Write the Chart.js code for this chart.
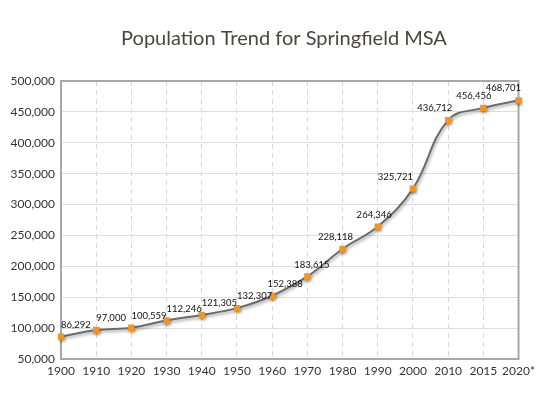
<!DOCTYPE html>
<html>
<head>
<meta charset="utf-8">
<script src="https://cdn.jsdelivr.net/npm/chart.js@4"></script>
<style>
  html, body { margin: 0; padding: 0; background: #fff; }
  #wrap { width: 540px; height: 396px; }
</style>
</head>
<body>
<div id="wrap"><canvas id="popChart" width="540" height="396"></canvas></div>
<script>
// years along the bottom
const years = ['1900', '1910', '1920', '1930', '1940', '1950', '1960', '1970', '1980', '1990', '2000', '2010', '2015', '2020*'];
// population for each year
const population = [86292, 97000, 100559, 112246, 121305, 132307, 152388, 183615, 228118, 264346, 325721, 436712, 456456, 468701];
const yMin = 50000;
const yMax = 500000;
const yStep = 50000;

const fontFam = 'Lato, "DejaVu Sans", sans-serif';

// how much of each value label sits left of its point (0 = starts at point, 1 = ends at point)
const labelAnchor = [0, 0, 0, 0, 0, 0, 0.13, 0.37, 0.7, 0.6, 1, 0.88, 0.77, 0.93];

// title + frame + value labels
const decorations = {
    id: 'decorations',
    beforeDatasetsDraw(chart) {
        const ctx = chart.ctx;
        const a = chart.chartArea;
        // frame round the plot
        ctx.save();
        ctx.strokeStyle = '#a8a8a8';
        ctx.lineWidth = 2;
        ctx.strokeRect(a.left, a.top, a.right - a.left, a.bottom - a.top);
        ctx.restore();

        ctx.save();
        ctx.shadowColor = 'rgba(0,0,0,0.35)';
        ctx.shadowBlur = 3;
        ctx.shadowOffsetX = 1;
        ctx.shadowOffsetY = 2;
    },
    afterDatasetsDraw(chart) {
        const ctx = chart.ctx;
        ctx.restore();

        const meta = chart.getDatasetMeta(0);
        ctx.save();
        ctx.font = '9.5px ' + fontFam;
        ctx.fillStyle = '#111';
        ctx.textBaseline = 'middle';
        ctx.textAlign = 'left';
        meta.data.forEach((pt, i) => {
            const txt = population[i].toLocaleString('en-US');
            const w = ctx.measureText(txt).width;
            ctx.fillText(txt, pt.x - w * labelAnchor[i], pt.y - 12);
        });
        ctx.restore();
    },
    afterDraw(chart) {
        const ctx = chart.ctx;
        ctx.save();
        ctx.font = '20px ' + fontFam;
        ctx.fillStyle = '#4a4540';
        ctx.textAlign = 'center';
        ctx.textBaseline = 'middle';
        ctx.fillText('Population Trend for Springfield MSA', 284, 39);
        ctx.restore();
    }
};

new Chart(document.getElementById('popChart'), {
    type: 'line',
    data: {
        labels: years,
        datasets: [{
            data: population,
            borderColor: '#6b6b6b',
            borderWidth: 2,
            tension: 0.4,
            pointStyle: 'rect',
            pointRadius: 4.5,
            pointBackgroundColor: '#f7941d',
            pointBorderColor: '#f7941d',
            pointBorderWidth: 0,
            fill: false
        }]
    },
    options: {
        responsive: false,
        animation: false,
        layout: { padding: { top: 81, right: 18, bottom: 0, left: 0 } },
        plugins: {
            legend: { display: false },
            tooltip: { enabled: false }
        },
        scales: {
            x: {
                offset: false,
                grid: {
                    color: '#d8d8d8',
                    drawTicks: false,
                    borderDash: [5, 4]
                },
                border: { display: false, dash: [5, 4] },
                ticks: {
                    color: '#333',
                    font: { family: fontFam, size: 12 },
                    padding: 5,
                    maxRotation: 0,
                    autoSkip: false
                },
                afterFit(scale) { scale.height = 37; }
            },
            y: {
                min: yMin,
                max: yMax,
                grid: { color: '#dddddd', drawTicks: false },
                border: { display: false },
                ticks: {
                    stepSize: yStep,
                    color: '#333',
                    font: { family: fontFam, size: 12 },
                    padding: 6,
                    callback: (v) => v.toLocaleString('en-US')
                },
                afterFit(scale) { scale.width = 61; }
            }
        }
    },
    plugins: [decorations]
});
</script>
</body>
</html>
